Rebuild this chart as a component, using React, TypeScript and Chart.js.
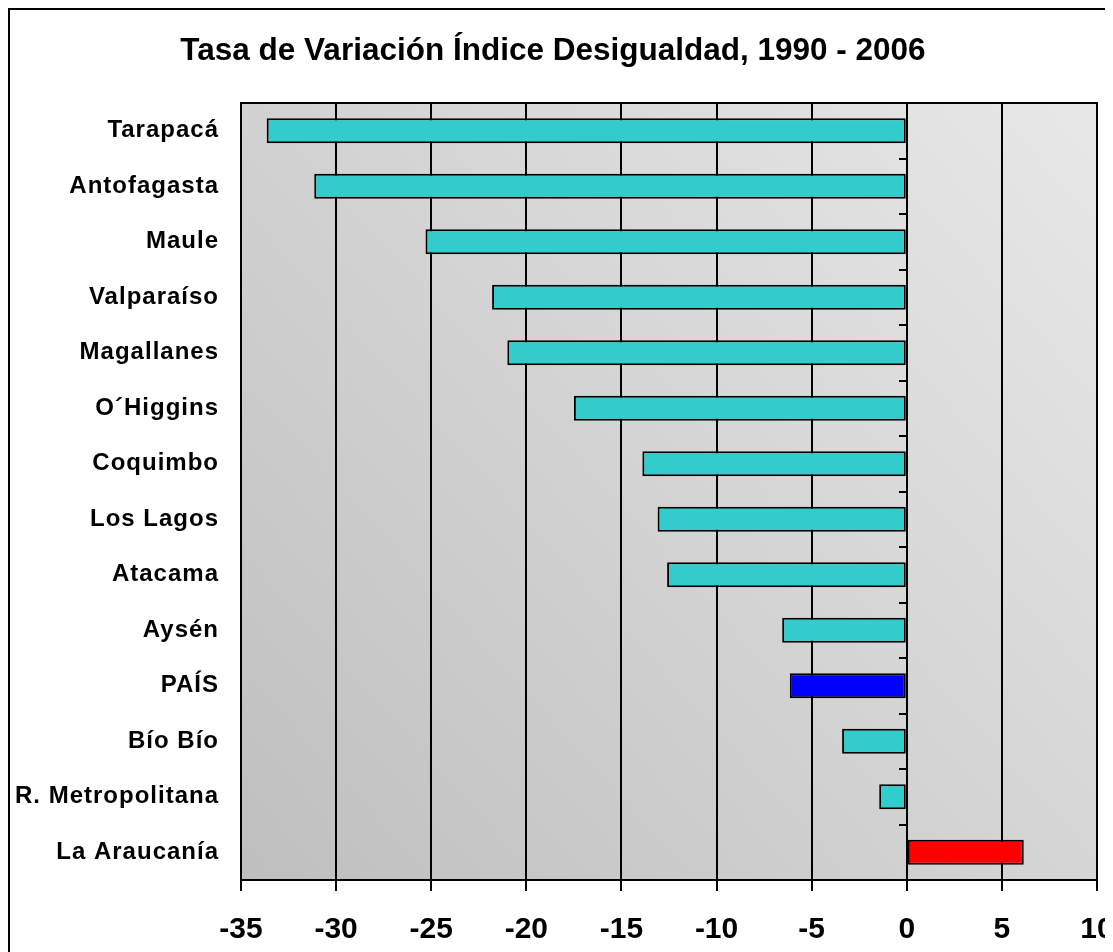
import React, { useEffect, useRef } from "react";
import { Chart, registerables } from "chart.js";

Chart.register(...registerables);

const TITLE = "Tasa de Variación Índice Desigualdad, 1990 - 2006";

const categories = [
  "Tarapacá",
  "Antofagasta",
  "Maule",
  "Valparaíso",
  "Magallanes",
  "O´Higgins",
  "Coquimbo",
  "Los Lagos",
  "Atacama",
  "Aysén",
  "PAÍS",
  "Bío Bío",
  "R. Metropolitana",
  "La Araucanía",
];

const values = [
  -33.65, -31.15, -25.3, -21.8, -21.0, -17.5, -13.9, -13.1, -12.6, -6.55, -6.15,
  -3.4, -1.45, 6.15,
];

const xTicks = [-35, -30, -25, -20, -15, -10, -5, 0, 5, 10];

const barColors = [
  "#33CCCC", "#33CCCC", "#33CCCC", "#33CCCC", "#33CCCC", "#33CCCC", "#33CCCC",
  "#33CCCC", "#33CCCC", "#33CCCC", "#0000FF", "#33CCCC", "#33CCCC", "#FF0000",
];

const FONT = "'Liberation Sans', Arial, Helvetica, sans-serif";

const plotPlugin = {
  id: "plotDecor",
  beforeDraw(chart: any) {
    const { ctx, chartArea: a } = chart;
    const g = ctx.createLinearGradient(a.left, a.bottom, a.right, a.top);
    g.addColorStop(0, "#bfbfbf");
    g.addColorStop(1, "#e8e8e8");
    ctx.save();
    ctx.fillStyle = g;
    ctx.fillRect(a.left, a.top, a.right - a.left, a.bottom - a.top);
    ctx.restore();
    const ys = chart.scales.y;
    if (ys && !ys._lsPatched) {
      const orig = ys.drawLabels.bind(ys);
      ys.drawLabels = (area: any) => {
        ctx.save();
        ctx.letterSpacing = "1px";
        orig(area);
        ctx.restore();
      };
      ys._lsPatched = true;
    }
  },
  afterDraw(chart: any) {
    const { ctx, chartArea: a } = chart;
    ctx.save();
    ctx.strokeStyle = "#000";
    ctx.lineWidth = 2;
    ctx.strokeRect(a.left, a.top, a.right - a.left, a.bottom - a.top);
    // chart title
    ctx.fillStyle = "#000";
    ctx.font = `bold 31.5px ${FONT}`;
    ctx.textAlign = "center";
    ctx.textBaseline = "alphabetic";
    ctx.fillText(TITLE, chart.width / 2 - 8.5, 50);
    ctx.restore();
  },
};

const W = 1103;
const H = 942;

export default function App() {
  const ref = useRef<HTMLCanvasElement | null>(null);

  useEffect(() => {
    document.body.style.overflow = "hidden";
    document.documentElement.style.overflow = "hidden";
    const canvas = ref.current;
    if (!canvas) return;
    const chart = new Chart(canvas, {
      type: "bar",
      data: {
        labels: categories,
        datasets: [
          {
            data: values,
            backgroundColor: barColors,
            borderColor: "#000",
            borderWidth: 2,
            borderSkipped: false,
            barPercentage: 0.45,
            categoryPercentage: 1,
          },
        ],
      },
      options: {
        indexAxis: "y",
        responsive: false,
        animation: false,
        devicePixelRatio: 1,
        layout: { padding: { left: 0, right: 0, top: 93, bottom: 0 } },
        plugins: {
          legend: { display: false },
          tooltip: { enabled: false },
          title: { display: false },
        },
        scales: {
          x: {
            type: "linear",
            position: "bottom",
            min: xTicks[0],
            max: xTicks[xTicks.length - 1],
            afterBuildTicks: (s: any) => {
              s.ticks = xTicks.map((v) => ({ value: v }));
            },
            ticks: {
              color: "#000",
              font: { size: 30, weight: "bold", family: FONT },
              padding: 21,
              maxRotation: 0,
              autoSkip: false,
              callback: (v: any) => String(v),
            },
            grid: { color: "#000", lineWidth: 2, tickLength: 11, drawTicks: true },
            border: { display: true, color: "#000", width: 2 },
            afterFit: (s: any) => {
              s.height = 72;
              s.paddingLeft = 0;
              s.paddingRight = 16;
            },
          },
          y: {
            type: "category",
            position: "left",
            grid: { display: false, drawTicks: false, tickLength: 0 },
            border: { display: false },
            ticks: {
              color: "#000",
              font: { size: 24, weight: "bold", family: FONT },
              padding: 22,
              autoSkip: false,
            },
            afterFit: (s: any) => {
              s.width = 231;
              s.paddingTop = 0;
              s.paddingBottom = 0;
            },
          },
          y2: {
            type: "category",
            labels: categories,
            position: { x: 0 },
            offset: true,
            grid: {
              offset: true,
              drawOnChartArea: false,
              drawTicks: true,
              tickLength: 8,
              color: "#000",
              lineWidth: 2,
            },
            ticks: { display: false },
            border: { display: false },
          },
        },
      } as any,
      plugins: [plotPlugin],
    });
    return () => chart.destroy();
  }, []);

  return (
    <div
      style={{
        borderTop: "2px solid #000",
        borderLeft: "2px solid #000",
        width: W,
        height: H,
        background: "#fff",
      }}
    >
      <canvas
        ref={ref}
        width={W}
        height={H}
        style={{ display: "block", width: W, height: H }}
      />
    </div>
  );
}
